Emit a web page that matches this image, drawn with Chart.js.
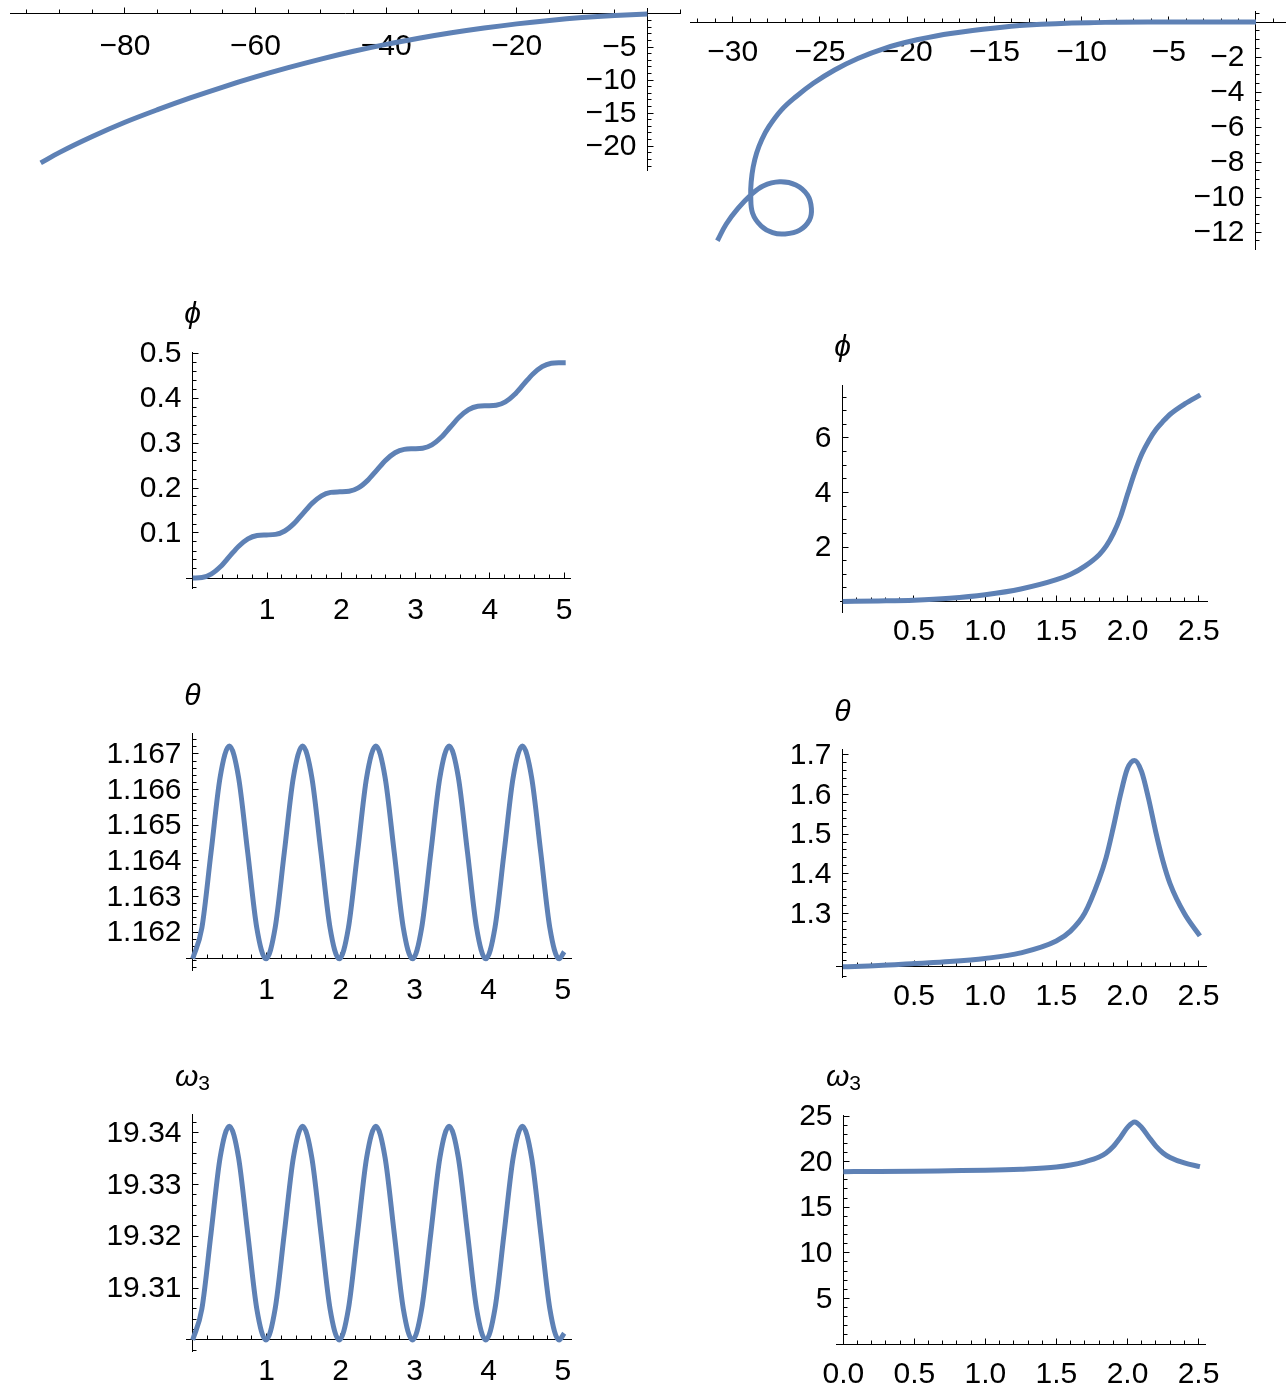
<!DOCTYPE html>
<html>
<head>
<meta charset="utf-8">
<title>Rigid body orbits</title>
<script src="https://cdn.jsdelivr.net/npm/chart.js@4.4.1/dist/chart.umd.min.js"></script>
<style>
  html, body { margin: 0; padding: 0; background: #fff; }
  #page { position: relative; width: 1286px; height: 1386px; overflow: hidden; }
  #page canvas { position: absolute; }
</style>
</head>
<body>
<div id="page"></div>
<script>
// --- top row: projected paths -------------------------------------------
const pathAX = [-92.9, -90, -85, -80, -75, -70, -65, -60, -55, -50, -45, -40, -35, -30, -25, -20, -15, -10, -5, 0];
const pathAY = [-22.52, -20.93, -18.53, -16.38, -14.48, -12.7, -11.05, -9.53, -8.13, -6.83, -5.65, -4.6, -3.68, -2.85, -2.13, -1.5, -0.98, -0.55, -0.23, 0];

const pathBX = [0, -4, -8.65, -13.08, -17.51, -19.5, -21.28, -22.83, -24.16, -25.38, -26.38, -27.24, -27.93, -28.33, -28.63, -28.83, -28.94,
  -28.97, -28.86, -28.37, -27.71, -27.0, -26.16, -25.6, -25.49, -25.71, -26.38, -27.31, -28.26, -28.97, -29.7, -30.37, -30.88];
const pathBY = [0, -0.003, -0.02, -0.17, -0.65, -1.03, -1.5, -2.08, -2.74, -3.5, -4.27, -5.06, -5.98, -6.71, -7.48, -8.29, -9.11,
  -9.89, -10.93, -11.66, -12.04, -12.11, -11.89, -11.31, -10.65, -9.89, -9.31, -9.13, -9.37, -9.89, -10.65, -11.54, -12.5];

// --- left column: slow run -----------------------------------------------
const tLeft = [
  0, 0.124, 0.248, 0.371, 0.495, 0.619, 0.743, 0.866,
  0.99, 1.114, 1.238, 1.361, 1.485, 1.609, 1.733, 1.856,
  1.98, 2.104, 2.228, 2.351, 2.475, 2.599, 2.723, 2.846,
  2.97, 3.094, 3.218, 3.341, 3.465, 3.589, 3.713, 3.836,
  3.96, 4.084, 4.208, 4.331, 4.455, 4.579, 4.703, 4.826,
  4.95, 5.02];
const phiLeft = [
  0, 0.0012, 0.0087, 0.0251, 0.0479, 0.0706, 0.087, 0.0945,
  0.0957, 0.0969, 0.1044, 0.1208, 0.1436, 0.1663, 0.1827, 0.1902,
  0.1914, 0.1926, 0.2001, 0.2165, 0.2393, 0.262, 0.2784, 0.2859,
  0.2871, 0.2883, 0.2958, 0.3122, 0.335, 0.3577, 0.3741, 0.3816,
  0.3828, 0.384, 0.3915, 0.4079, 0.4307, 0.4534, 0.4698, 0.4773,
  0.4785, 0.4786];
const thetaLeft = [
  1.16125, 1.16212, 1.16424, 1.16635, 1.16722, 1.16635, 1.16424, 1.16212,
  1.16125, 1.16212, 1.16424, 1.16635, 1.16722, 1.16635, 1.16424, 1.16212,
  1.16125, 1.16212, 1.16424, 1.16635, 1.16722, 1.16635, 1.16424, 1.16212,
  1.16125, 1.16212, 1.16424, 1.16635, 1.16722, 1.16635, 1.16424, 1.16212,
  1.16125, 1.16212, 1.16424, 1.16635, 1.16722, 1.16635, 1.16424, 1.16212,
  1.16125, 1.16145];
const omegaLeft = [
  19.3, 19.306, 19.3206, 19.3352, 19.3412, 19.3352, 19.3206, 19.306,
  19.3, 19.306, 19.3206, 19.3352, 19.3412, 19.3352, 19.3206, 19.306,
  19.3, 19.306, 19.3206, 19.3352, 19.3412, 19.3352, 19.3206, 19.306,
  19.3, 19.306, 19.3206, 19.3352, 19.3412, 19.3352, 19.3206, 19.306,
  19.3, 19.306, 19.3206, 19.3352, 19.3412, 19.3352, 19.3206, 19.306,
  19.3, 19.3013];

// --- right column: fast run ----------------------------------------------
const tRight = [0, 0.25, 0.5, 0.75, 1.0, 1.25, 1.5, 1.6, 1.7, 1.8, 1.85, 1.9, 1.95, 2.0, 2.05, 2.1, 2.15, 2.2, 2.25, 2.3, 2.4, 2.51];
const phiRight = [0, 0.02, 0.05, 0.12, 0.25, 0.46, 0.8, 1.0, 1.3, 1.72, 2.04, 2.5, 3.12, 3.95, 4.75, 5.42, 5.92, 6.32, 6.62, 6.88, 7.25, 7.58];
const thetaRight = [1.165, 1.168, 1.173, 1.178, 1.186, 1.2, 1.23, 1.255, 1.3, 1.385, 1.44, 1.515, 1.597, 1.665, 1.686, 1.658, 1.588, 1.505, 1.432, 1.375, 1.3, 1.243];
const omegaRight = [18.9, 18.92, 18.95, 19.0, 19.05, 19.17, 19.4, 19.62, 19.98, 20.5, 20.95, 21.65, 22.65, 23.75, 24.35, 23.75, 22.7, 21.7, 20.95, 20.45, 19.85, 19.45];

// --- tick labels -----------------------------------------------------------
const pathAXTicks = [-80, -60, -40, -20];
const pathAYTicks = [-5, -10, -15, -20];
const pathBXTicks = [-30, -25, -20, -15, -10, -5];
const pathBYTicks = [-2, -4, -6, -8, -10, -12];
const tLeftTicks = [1, 2, 3, 4, 5];
const tRightTicks = [0.5, 1.0, 1.5, 2.0, 2.5];
const tRightTicksZero = [0.0, 0.5, 1.0, 1.5, 2.0, 2.5];
const phiLeftTicks = [0.1, 0.2, 0.3, 0.4, 0.5];
const phiRightTicks = [2, 4, 6];
const thetaLeftTicks = [1.162, 1.163, 1.164, 1.165, 1.166, 1.167];
const thetaRightTicks = [1.3, 1.4, 1.5, 1.6, 1.7];
const omegaLeftTicks = [19.31, 19.32, 19.33, 19.34];
const omegaRightTicks = [5, 10, 15, 20, 25];

const LINE = '#5E81B5';
const FONT = '"Liberation Sans", Arial, Helvetica, "DejaVu Sans", sans-serif';

const fmt = (v, d) => v.toFixed(d).replace('-', '\u2212');

function steps(min, max, step, fn) {
  const first = Math.ceil(min / step - 1e-6);
  const last = Math.floor(max / step + 1e-6);
  for (let i = first; i <= last; i++) fn(i * step);
}

// Mathematica-style axes: inward ticks, minor ticks, labels beside the crossing axes
function mathematicaAxes(a) {
  return {
    id: 'mathematicaAxes',
    beforeDatasetsDraw(chart) {
      const { ctx } = chart;
      const sx = chart.scales.x, sy = chart.scales.y;
      const rowY = Math.round(sy.getPixelForValue(a.xAt) - 0.5) + 0.5;
      const colX = Math.round(sx.getPixelForValue(a.yAt) - 0.5) + 0.5;
      const near = (list, v, step) => list.some(t => Math.abs(t - v) < step * 1e-3);

      ctx.save();
      ctx.strokeStyle = '#000';
      ctx.lineWidth = 1;
      ctx.beginPath();
      steps(sx.min, sx.max, a.xMinor, v => {
        if (Math.abs(v - a.yAt) < a.xMinor * 1e-3) return;
        const px = Math.round(sx.getPixelForValue(v) - 0.5) + 0.5;
        const len = near(a.xTicks, v, a.xMinor) ? 6 : 4;
        ctx.moveTo(px, rowY);
        ctx.lineTo(px, rowY - len);
      });
      steps(sy.min, sy.max, a.yMinor, v => {
        if (Math.abs(v - a.xAt) < a.yMinor * 1e-3) return;
        const py = Math.round(sy.getPixelForValue(v) - 0.5) + 0.5;
        const len = near(a.yTicks, v, a.yMinor) ? 6 : 4;
        ctx.moveTo(colX, py);
        ctx.lineTo(colX + len, py);
      });
      ctx.stroke();

      ctx.fillStyle = '#000';
      ctx.font = '30px ' + FONT;
      ctx.textBaseline = 'middle';
      ctx.textAlign = 'center';
      const drop = a.drop || 30;
      a.xTicks.forEach(v => ctx.fillText(fmt(v, a.xDigits), sx.getPixelForValue(v), rowY + drop));
      ctx.textAlign = 'right';
      a.yTicks.forEach(v => ctx.fillText(fmt(v, a.yDigits), colX - 11, sy.getPixelForValue(v) + 1));

      if (a.title) {
        const mainFont = 'italic 30px ' + FONT, subFont = '21px ' + FONT;
        ctx.font = mainFont;
        const mainW = ctx.measureText(a.title).width;
        let subW = 0;
        if (a.sub) {
          ctx.font = subFont;
          subW = ctx.measureText(a.sub).width;
        }
        const left = colX - (mainW + subW) / 2;
        const ty = sy.top - 37;
        ctx.textAlign = 'left';
        ctx.font = mainFont;
        ctx.fillText(a.title, left, ty);
        if (a.sub) {
          ctx.font = subFont;
          ctx.fillText(a.sub, left + mainW, ty + 6);
        }
      }
      ctx.restore();
    }
  };
}

// frame = plot box on the page [left, top, right, bottom]
const panels = [
  { frame: [10, 8, 680, 170], x: [-97.6, 5], y: [-23.6, 0.9], xs: pathAX, ys: pathAY, mono: true,
    axes: { xAt: 0, yAt: 0, xTicks: pathAXTicks, xMinor: 5, xDigits: 0, yTicks: pathAYTicks, yMinor: 1, yDigits: 0, drop: 33 } },
  { frame: [690, 11.7, 1286, 249], x: [-32.45, 1.72], y: [-12.97, 0.59], xs: pathBX, ys: pathBY, mono: false,
    axes: { xAt: 0, yAt: 0, xTicks: pathBXTicks, xMinor: 1, xDigits: 0, yTicks: pathBYTicks, yMinor: 0.5, yDigits: 0 } },
  { frame: [186.8, 352.1, 570.9, 588.8], x: [-0.08, 5.09], y: [-0.024, 0.502], xs: tLeft, ys: phiLeft, mono: true,
    axes: { xAt: 0, yAt: 0, xTicks: tLeftTicks, xMinor: 0.2, xDigits: 0, yTicks: phiLeftTicks, yMinor: 0.02, yDigits: 1, drop: 32, title: '\u03D5' } },
  { frame: [840.6, 385.1, 1207.9, 612.7], x: [-0.015, 2.563], y: [-0.41, 7.94], xs: tRight, ys: phiRight, mono: true,
    axes: { xAt: 0, yAt: 0, xTicks: tRightTicks, xMinor: 0.1, xDigits: 1, yTicks: phiRightTicks, yMinor: 0.5, yDigits: 0, title: '\u03D5' } },
  { frame: [186.7, 733.2, 571.6, 970.1], x: [-0.081, 5.12], y: [1.160933, 1.167581], xs: tLeft, ys: thetaLeft, mono: true,
    axes: { xAt: 1.16125, yAt: 0, xTicks: tLeftTicks, xMinor: 0.2, xDigits: 0, yTicks: thetaLeftTicks, yMinor: 0.0002, yDigits: 3, drop: 32, title: '\u03B8' } },
  { frame: [836.7, 749.9, 1206, 977.3], x: [-0.044, 2.553], y: [1.1384, 1.7126], xs: tRight, ys: thetaRight, mono: true,
    axes: { xAt: 1.165, yAt: 0, xTicks: tRightTicks, xMinor: 0.1, xDigits: 1, yTicks: thetaRightTicks, yMinor: 0.02, yDigits: 1, title: '\u03B8' } },
  { frame: [186.7, 1114.8, 571.6, 1351.9], x: [-0.081, 5.12], y: [19.2977, 19.3434], xs: tLeft, ys: omegaLeft, mono: true,
    axes: { xAt: 19.3, yAt: 0, xTicks: tLeftTicks, xMinor: 0.2, xDigits: 0, yTicks: omegaLeftTicks, yMinor: 0.002, yDigits: 2, drop: 32, title: '\u03C9', sub: '3' } },
  { frame: [836.1, 1115.1, 1205.9, 1344], x: [-0.051, 2.552], y: [0, 25.1], xs: tRight, ys: omegaRight, mono: true,
    axes: { xAt: 0, yAt: 0, xTicks: tRightTicksZero, xMinor: 0.1, xDigits: 1, yTicks: omegaRightTicks, yMinor: 1, yDigits: 0, title: '\u03C9', sub: '3' } }
];

// scales take no room of their own, so the plot box is set by the padding alone
function flatten(scale) {
  if (scale.isHorizontal()) scale.height = 0; else scale.width = 0;
  scale.paddingLeft = scale.paddingRight = scale.paddingTop = scale.paddingBottom = 0;
}

const page = document.getElementById('page');

panels.forEach(p => {
  const [l, t, r, b] = p.frame;
  const box = {
    l: Math.max(0, Math.floor(l - 130)),
    t: Math.max(0, Math.floor(t - 60)),
    r: Math.min(1286, Math.ceil(r + 20)),
    b: Math.min(1386, Math.ceil(b + 50))
  };
  const canvas = document.createElement('canvas');
  canvas.width = box.r - box.l;
  canvas.height = box.b - box.t;
  canvas.style.left = box.l + 'px';
  canvas.style.top = box.t + 'px';
  page.appendChild(canvas);

  const axisStyle = {
    type: 'linear',
    grid: { display: false },
    ticks: { display: false },
    border: { display: true, color: '#000', width: 1 },
    afterFit: flatten
  };

  new Chart(canvas, {
    type: 'scatter',
    data: {
      datasets: [{
        data: p.xs.map((x, i) => ({ x: x, y: p.ys[i] })),
        showLine: true,
        borderColor: LINE,
        borderWidth: 5,
        pointRadius: 0,
        fill: false,
        tension: 0.4,
        cubicInterpolationMode: p.mono ? 'monotone' : 'default'
      }]
    },
    options: {
      responsive: false,
      animation: false,
      events: [],
      layout: { padding: { left: l - box.l, top: t - box.t, right: box.r - r, bottom: box.b - b } },
      plugins: { legend: { display: false }, tooltip: { enabled: false } },
      scales: {
        x: Object.assign({}, axisStyle, { min: p.x[0], max: p.x[1], position: { y: p.axes.xAt } }),
        y: Object.assign({}, axisStyle, { min: p.y[0], max: p.y[1], position: { x: p.axes.yAt } })
      }
    },
    plugins: [mathematicaAxes(p.axes)]
  });
});
</script>
</body>
</html>
